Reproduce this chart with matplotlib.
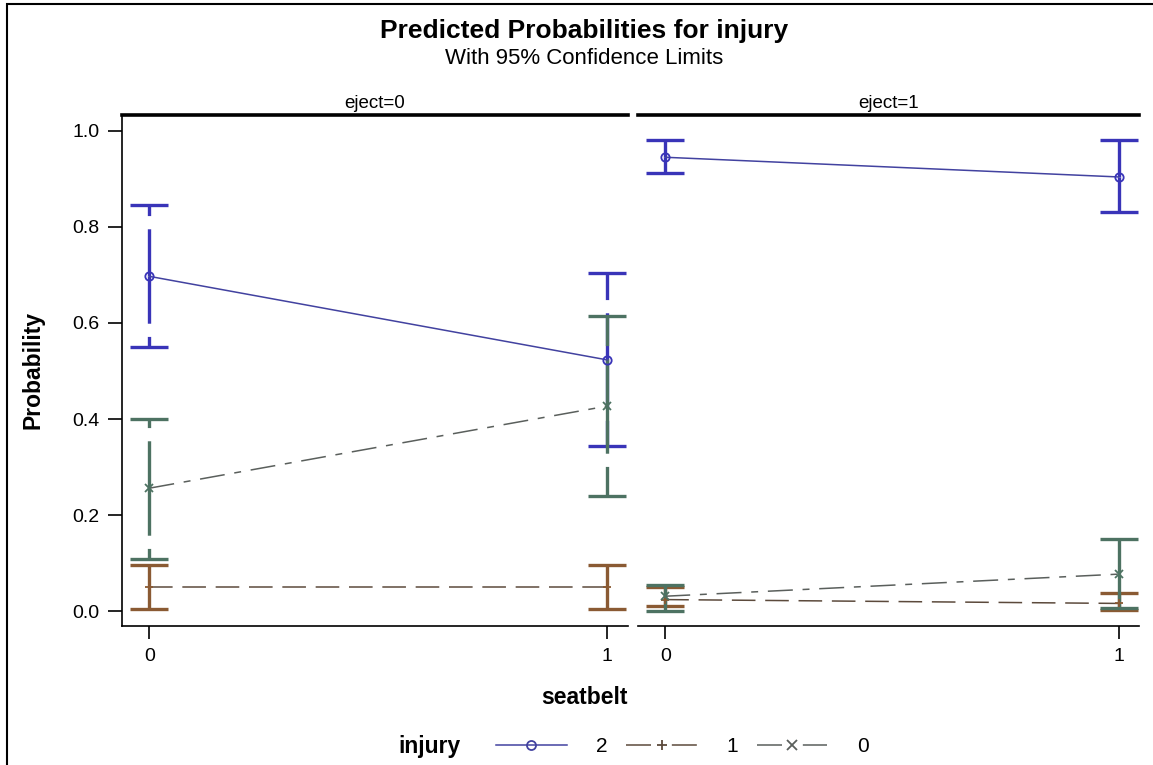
import matplotlib
matplotlib.use('Agg')
from matplotlib import pyplot as plt
from matplotlib.lines import Line2D
from matplotlib.patches import Rectangle

plt.rcParams['font.family'] = ['Liberation Sans', 'DejaVu Sans']
plt.rcParams['lines.scale_dashes'] = False

# predicted probabilities with 95% limits, one list per injury level,
# order: seatbelt 0, seatbelt 1
seatbelt = [0, 1]
panels = ['eject=0', 'eject=1']

inj2_p = [[0.697, 0.523], [0.945, 0.904]]
inj2_lo = [[0.550, 0.343], [0.912, 0.830]]
inj2_hi = [[0.846, 0.703], [0.980, 0.980]]

inj1_p = [[0.050, 0.050], [0.024, 0.016]]
inj1_lo = [[0.004, 0.004], [0.010, 0.002]]
inj1_hi = [[0.097, 0.097], [0.050, 0.037]]

inj0_p = [[0.256, 0.427], [0.031, 0.077]]
inj0_lo = [[0.108, 0.240], [0.001, 0.006]]
inj0_hi = [[0.400, 0.615], [0.054, 0.150]]

levels = ['2', '1', '0']

styles = {
    '2': dict(bar='#3934b8', line='#4242a0', ls='-', key_ls='-', marker='o'),
    '1': dict(bar='#8a5a33', line='#5c4a3c', ls=(0, (17, 7)), key_ls=(0, (18, 15)), marker='+'),
    '0': dict(bar='#4d7262', line='#5a5f5c', ls=(0, (18, 7, 5, 7)), key_ls=(0, (18, 15)), marker='x'),
}
series = {
    '2': (inj2_p, inj2_lo, inj2_hi),
    '1': (inj1_p, inj1_lo, inj1_hi),
    '0': (inj0_p, inj0_lo, inj0_hi),
}

W, H = 1153, 765
fig = plt.figure(figsize=(W / 100, H / 100), dpi=100)

# outer frame
fig.patches.append(Rectangle((7 / W, -0.01), 1.1, 1 - 4 / H + 0.01, transform=fig.transFigure,
                             fill=False, edgecolor='black', linewidth=1.5))

ax_left = fig.add_axes([122 / W, (H - 626) / H, 506 / W, 511 / H])
ax_right = fig.add_axes([638 / W, (H - 626) / H, 501 / W, 511 / H], sharey=ax_left)
axes = [ax_left, ax_right]

bar_dash = (0, (34, 9.5))

for k, ax in enumerate(axes):
    for lev in levels:
        st = styles[lev]
        p, lo, hi = series[lev]
        # error bars, drawn outward from the estimate
        for i, x in enumerate(seatbelt):
            for end in (lo[k][i], hi[k][i]):
                ax.plot([x, x], [p[k][i], end], color=st['bar'], lw=2.4,
                        ls=bar_dash, solid_capstyle='butt', dash_capstyle='butt', zorder=2)
            ax.plot([x, x], [lo[k][i], hi[k][i]], ls='none', marker='_', ms=27,
                    mew=2.4, color=st['bar'], zorder=2)
        ax.plot(seatbelt, p[k], color=st['line'], lw=1.1, ls=st['ls'], zorder=3)
        ax.plot(seatbelt, p[k], ls='none', marker=st['marker'], ms=6, mew=1.3,
                mfc='none', mec=st['bar'], zorder=4)

    ax.set_xlim(-0.06, 1.045)
    ax.set_ylim(-0.031, 1.033)
    ax.set_xticks(seatbelt)
    ax.set_xticklabels(['0', '1'])
    ax.spines['right'].set_visible(False)
    ax.spines['top'].set_linewidth(2.6)
    ax.spines['bottom'].set_linewidth(1.2)
    ax.tick_params(axis='x', length=9, width=1.2, labelsize=14, pad=7)
    ax.set_title(panels[k], fontsize=13.5, pad=5)

ax_left.set_yticks([0.0, 0.2, 0.4, 0.6, 0.8, 1.0])
ax_left.set_yticklabels(['0.0', '0.2', '0.4', '0.6', '0.8', '1.0'])
ax_left.tick_params(axis='y', length=10, width=1.2, labelsize=14, pad=6)
ax_left.spines['left'].set_linewidth(1.2)
ax_right.spines['left'].set_visible(False)
ax_right.tick_params(axis='y', left=False, labelleft=False)

fig.text(584 / W, 1 - 31 / H, 'Predicted Probabilities for injury', ha='center', va='center',
         fontsize=19, fontweight='bold')
fig.text(584 / W, 1 - 59 / H, 'With 95% Confidence Limits', ha='center', va='center', fontsize=16)
fig.text(584 / W, 1 - 697 / H, 'seatbelt', ha='center', va='center', fontsize=16.5, fontweight='bold')
fig.text(33 / W, 1 - 370 / H, 'Probability', ha='center', va='center', rotation=90,
         fontsize=16.5, fontweight='bold')

# legend
fig.text(430 / W, 1 - 747 / H, 'injury', ha='center', va='center', fontsize=16.5, fontweight='bold')
handles = [Line2D([], [], color=styles[lev]['line'], ls=styles[lev]['key_ls'], lw=1.1,
                  marker=styles[lev]['marker'], ms=6.5, mew=1.3, mfc='none',
                  mec=styles[lev]['line']) for lev in levels]
fig.legend(handles, levels, loc='center left', bbox_to_anchor=(496 / W, 1 - 747 / H),
           ncol=3, frameon=False, fontsize=15, handlelength=3.4, handletextpad=1.4,
           columnspacing=0.9, borderpad=0, borderaxespad=0)

fig.savefig('out.png', dpi=100)
